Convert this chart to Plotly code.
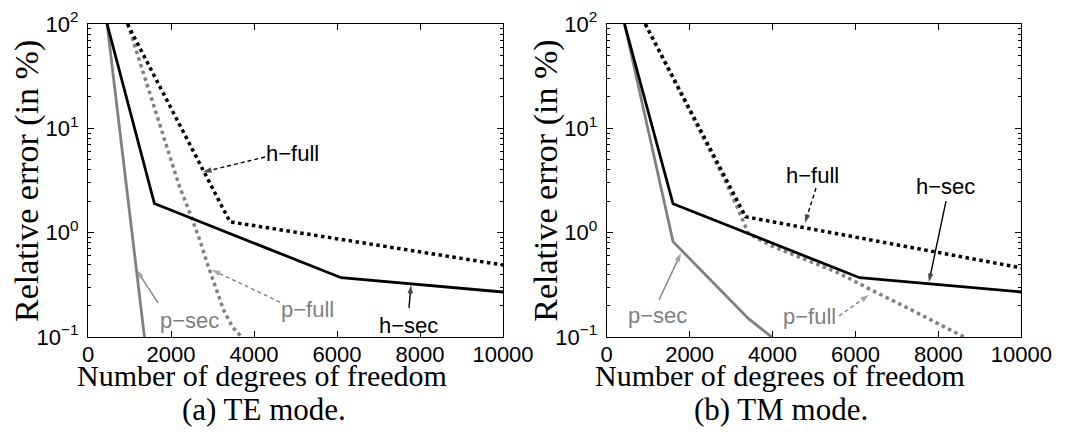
import math
import plotly.graph_objects as go

# ---------------- data ----------------
# (a) TE mode
te_hsec_dof = [460, 1600, 6100, 10000]
te_hsec_err = [100, 1.9, 0.37, 0.27]
te_hfull_dof = [950, 3420, 10000]
te_hfull_err = [100, 1.27, 0.49]
te_psec_dof = [460, 1360]
te_psec_err = [100, 0.1]
te_pfull_dof = [960, 2200, 2480, 2680, 2880, 3080, 3270, 3480, 3700]
te_pfull_err = [100, 2.8, 1.45, 0.88, 0.5, 0.3, 0.18, 0.125, 0.1]

# (b) TM mode
tm_hsec_dof = [430, 1600, 6100, 10000]
tm_hsec_err = [100, 1.89, 0.37, 0.27]
tm_hfull_dof = [930, 3350, 10000]
tm_hfull_err = [100, 1.42, 0.46]
tm_psec_dof = [430, 1600, 3420, 3980]
tm_psec_err = [100, 0.82, 0.15, 0.1]
tm_pfull_dof = [930, 2850, 3150, 3420, 4000, 4800, 5600, 6400, 7200, 8620]
tm_pfull_err = [100, 3.2, 1.75, 0.98, 0.74, 0.55, 0.41, 0.28, 0.195, 0.1]

x_ticks = [0, 2000, 4000, 6000, 8000, 10000]
x_ticktext = ["0", "2000", "4000", "6000", "8000", "10000"]
y_ticks = [0.1, 1, 10, 100]
y_ticktext = ["10<sup>−1</sup>", "10<sup>0</sup>", "10<sup>1</sup>", "10<sup>2</sup>"]
y_minor = [m * d for d in (0.1, 1, 10) for m in range(2, 10)]

x_title = "Number of degrees of freedom"
y_title = "Relative error (in %)"
captions = ["(a) TE mode.", "(b) TM mode."]

# curve labels: panel, text, colour key, dashed, text pos, tail pos, head pos (data coords)
labels = [
    (0, "h−full", "k", True, (4916, 5.8), (4265, 5.31), (2771, 3.81)),
    (0, "p−sec", "g", False, (2434, 0.1455), (1687, 0.212), (1170, 0.44)),
    (0, "p−full", "g", True, (5277, 0.1815), (4627, 0.216), (2980, 0.44)),
    (0, "h−sec", "k", False, (7711, 0.130), (7735, 0.19), (7783, 0.315)),
    (1, "h−full", "k", True, (4952, 3.57), (5048, 2.68), (4783, 1.24)),
    (1, "h−sec", "k", False, (8160, 2.74), (8184, 2.01), (7772, 0.336)),
    (1, "p−sec", "g", False, (1237, 0.159), (1261, 0.226), (1792, 0.638)),
    (1, "p−full", "g", True, (4903, 0.1556), (5603, 0.159), (6325, 0.253)),
]

# ---------------- layout constants ----------------
W, H = 1068, 440
BLACK = "#000000"
GREY = "#808080"
COL = {"k": BLACK, "g": GREY}
x_domains = [(88 / W, 503 / W), (606.7 / W, 1021.3 / W)]
y_top_px, y_bot_px = 24, 337
y_domain = (1 - y_bot_px / H, 1 - y_top_px / H)
SANS = "Liberation Sans"
SERIF = "Liberation Serif"

fig = go.Figure()

panels = [
    (te_hsec_dof, te_hsec_err, te_hfull_dof, te_hfull_err, te_psec_dof, te_psec_err, te_pfull_dof, te_pfull_err),
    (tm_hsec_dof, tm_hsec_err, tm_hfull_dof, tm_hfull_err, tm_psec_dof, tm_psec_err, tm_pfull_dof, tm_pfull_err),
]

for i, (hs_x, hs_y, hf_x, hf_y, ps_x, ps_y, pf_x, pf_y) in enumerate(panels):
    xa = "x" if i == 0 else "x2"
    ya = "y" if i == 0 else "y2"
    common = dict(mode="lines", xaxis=xa, yaxis=ya, showlegend=False, hoverinfo="skip")
    fig.add_trace(go.Scatter(x=pf_x, y=pf_y, line=dict(color=GREY, width=3.5, dash="dot"), **common))
    fig.add_trace(go.Scatter(x=ps_x, y=ps_y, line=dict(color=GREY, width=2.8), **common))
    fig.add_trace(go.Scatter(x=hf_x, y=hf_y, line=dict(color=BLACK, width=3.5, dash="dot"), **common))
    fig.add_trace(go.Scatter(x=hs_x, y=hs_y, line=dict(color=BLACK, width=2.8), **common))

annotations = []
for panel, text, ck, dashed, tpos, tail, head in labels:
    xa = "x" if panel == 0 else "x2"
    ya = "y" if panel == 0 else "y2"
    color = COL[ck]
    # leader line with arrow head at its end
    fig.add_trace(go.Scatter(
        x=[tail[0], head[0]], y=[tail[1], head[1]], mode="lines+markers", xaxis=xa, yaxis=ya,
        line=dict(color=color, width=1.4, dash="4px,3px" if dashed else "solid"),
        marker=dict(symbol="arrow", size=[0, 9], angleref="previous", color=color,
                    line=dict(width=0)),
        showlegend=False, hoverinfo="skip"))
    # label text
    annotations.append(dict(
        x=tpos[0], y=math.log10(tpos[1]), xref=xa, yref=ya, text=text, showarrow=False,
        font=dict(family=SANS, size=22, color=color)))

# axis titles and captions
xtitle_cx = [262, 780]
ytitle_cx = [27, 545.7]
cap_cx = [264, 781]
for i in range(2):
    annotations.append(dict(x=xtitle_cx[i] / W, y=1 - 375 / H, xref="paper", yref="paper",
                            text=x_title, showarrow=False, xanchor="center", yanchor="middle",
                            font=dict(family=SERIF, size=30, color=BLACK)))
    annotations.append(dict(x=ytitle_cx[i] / W, y=1 - 181 / H, xref="paper", yref="paper",
                            text=y_title, showarrow=False, textangle=-90, xanchor="center",
                            yanchor="middle", font=dict(family=SERIF, size=34, color=BLACK)))
    annotations.append(dict(x=cap_cx[i] / W, y=1 - 409 / H, xref="paper", yref="paper",
                            text=captions[i], showarrow=False, xanchor="center", yanchor="middle",
                            font=dict(family=SERIF, size=31, color=BLACK)))


def xaxis_cfg(i):
    return dict(domain=list(x_domains[i]), range=[0, 10000], tickmode="array",
                tickvals=x_ticks, ticktext=x_ticktext, ticks="inside", ticklen=6,
                tickcolor=BLACK, mirror="ticks", showline=True, linecolor=BLACK, linewidth=1,
                showgrid=False, zeroline=False, anchor="y" if i == 0 else "y2",
                automargin=False, ticklabelstandoff=-2,
                tickfont=dict(family=SANS, size=22, color=BLACK))


def yaxis_cfg(i):
    return dict(type="log", range=[-1, 2], domain=list(y_domain), tickmode="array",
                tickvals=y_ticks, ticktext=y_ticktext, ticks="inside", ticklen=6,
                tickcolor=BLACK, mirror="ticks", showline=True, linecolor=BLACK, linewidth=1,
                showgrid=False, zeroline=False, anchor="x" if i == 0 else "x2",
                automargin=False,
                minor=dict(tickmode="array", tickvals=y_minor, ticks="inside", ticklen=3,
                           tickcolor=BLACK, showgrid=False),
                ticklabelstandoff=4,
                tickfont=dict(family=SANS, size=22, color=BLACK))


fig.update_layout(
    width=W, height=H, margin=dict(l=0, r=0, t=0, b=0, pad=0, autoexpand=False),
    paper_bgcolor="white", plot_bgcolor="white",
    xaxis=xaxis_cfg(0), yaxis=yaxis_cfg(0),
    xaxis2=xaxis_cfg(1), yaxis2=yaxis_cfg(1),
    annotations=annotations, showlegend=False,
)

fig.write_html("out.html", config={"displayModeBar": False},
               post_script="document.body.style.margin='0px';document.body.style.overflow='hidden';")
